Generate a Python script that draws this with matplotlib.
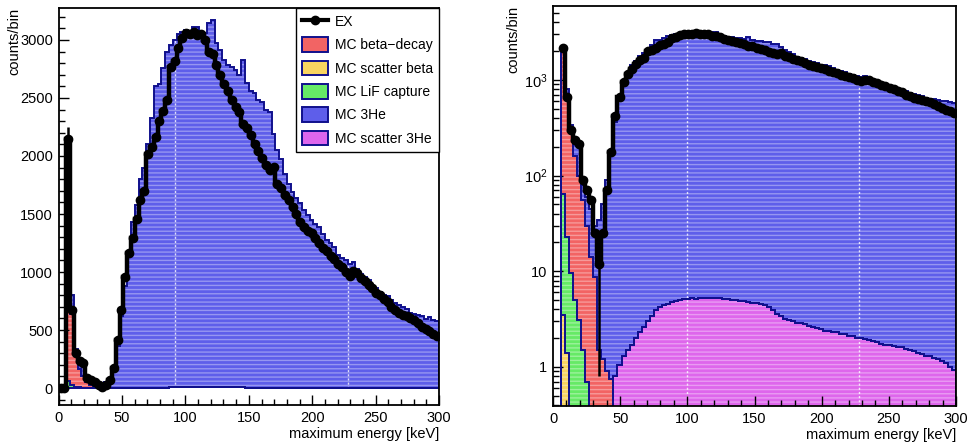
import numpy as np
import matplotlib
matplotlib.use("Agg")
import matplotlib.pyplot as plt
from matplotlib.lines import Line2D
from matplotlib.patches import Patch
from matplotlib.ticker import MultipleLocator, FixedLocator, FixedFormatter, LogLocator, NullFormatter

plt.rcParams['font.family'] = ['Liberation Sans', 'DejaVu Sans']
plt.rcParams['mathtext.fontset'] = 'custom'
plt.rcParams['mathtext.rm'] = 'Liberation Sans'
plt.rcParams['mathtext.it'] = 'Liberation Sans:italic'
plt.rcParams['hatch.linewidth'] = 1.0

# binning: 3 keV bins from 0 to 300 keV
e_min, e_max, bin_width = 0, 300, 3

# measured spectrum (counts per bin)
ex_counts = [
    0, 0, 2150, 670, 300, 235, 215, 90, 70, 55,
    25, 12, 25, 70, 175, 415, 670, 960, 1160, 1290,
    1460, 1620, 1700, 2020, 2080, 2160, 2300, 2390, 2480, 2770,
    2820, 2930, 3020, 3060, 3050, 3070, 3040, 3050, 3000, 2900,
    2880, 2780, 2700, 2620, 2560, 2480, 2420, 2380, 2280, 2240,
    2180, 2100, 2040, 1980, 1920, 1880, 1905, 1760, 1720, 1660,
    1620, 1560, 1500, 1430, 1390, 1350, 1335, 1290, 1250, 1210,
    1180, 1140, 1110, 1070, 1040, 1000, 970, 1010, 990, 950,
    920, 890, 860, 820, 800, 770, 740, 700, 675, 650,
    630, 620, 600, 590, 560, 530, 510, 490, 470, 450,
]
# error bars drawn on the measured spectrum: bin index -> (lower, upper)
ex_errors = {2: (100, 100), 11: (11.2, 11.0)}

# simulated components (counts per bin)
mc_3he = [
    0, 0, 30, 160, 30, 60, 100, 25, 30, 31,
    21, 33, 49, 89, 169, 359, 619, 879, 1178, 1428,
    1578, 1798, 1897, 2097, 2327, 2596, 2616, 2756, 2895, 2955,
    2995, 3045, 3065, 3080, 3075, 3105, 3110, 3065, 3055, 3140,
    3165, 2965, 2905, 2825, 2775, 2765, 2735, 2695, 2825, 2625,
    2555, 2535, 2475, 2465, 2395, 2375, 2185, 2045, 1975, 1845,
    1755, 1685, 1635, 1590, 1535, 1485, 1445, 1415, 1385, 1325,
    1275, 1245, 1213, 1148, 1118, 1098, 1068, 1088, 1028, 978,
    958, 928, 878, 858, 828, 798, 788, 758, 728, 718,
    698, 678, 648, 638, 628, 618, 598, 608, 589, 579,
]
mc_scatter_3he = [
    0, 0, 0, 0, 0, 0, 0, 0, 0, 0,
    0, 0, 0, 0, 0, 0.8, 1.05, 1.3, 1.5, 1.7,
    2.0, 2.3, 2.6, 3.0, 3.4, 3.9, 4.2, 4.4, 4.6, 4.8,
    4.9, 5.0, 5.1, 5.1, 5.2, 5.1, 5.2, 5.3, 5.2, 5.2,
    5.3, 5.2, 5.1, 5.1, 5.0, 5.0, 4.9, 4.9, 4.8, 4.7,
    4.7, 4.5, 4.4, 4.2, 3.9, 3.6, 3.4, 3.2, 3.1, 3.0,
    2.9, 2.85, 2.8, 2.7, 2.6, 2.55, 2.5, 2.4, 2.4, 2.3,
    2.3, 2.2, 2.2, 2.1, 2.1, 2.0, 2.0, 1.95, 1.9, 1.85,
    1.8, 1.75, 1.7, 1.7, 1.65, 1.6, 1.6, 1.55, 1.5, 1.45,
    1.4, 1.35, 1.3, 1.3, 1.25, 1.2, 1.15, 1.1, 1.0, 0.93,
]
# low-energy components: listed bins start at 0 keV, all later bins are empty
mc_beta_decay = [0, 0, 1985, 615, 300, 155, 97, 53.5, 29.3, 14, 8.7, 1.5, 1.2, 0.9, 0.75]
mc_scatter_beta = [0, 0, 3.5, 1.4]
mc_lif_capture = [0, 0, 61.5, 21.6, 9.5, 5.0, 3.1, 1.5, 0.7]

labels = ['EX', 'MC beta\u2212decay', 'MC scatter beta', 'MC LiF capture', 'MC 3He', 'MC scatter 3He']

col_red = '#f26464'
col_yel = '#f8d460'
col_grn = '#66ea66'
col_blu = '#5e5eea'
col_mag = '#de66ec'
navy = '#10108c'

edges = np.arange(e_min, e_max + bin_width, bin_width)
centers = 0.5 * (edges[:-1] + edges[1:])
nb = len(centers)


def full(v):
    a = np.zeros(nb)
    a[:len(v)] = v
    return a


ex = np.array(ex_counts, float)
layers = [  # stacked bottom -> top
    (full(mc_scatter_3he), col_mag),
    (full(mc_scatter_beta), col_yel),
    (full(mc_lif_capture), col_grn),
    (full(mc_beta_decay), col_red),
    (full(mc_3he), col_blu),
]

FS = 10.5


def draw_panel(ax, log):
    floor = 1e-3 if log else 0.0
    cum = np.zeros(nb)
    tops = []
    for vals, col in layers:
        lo = cum.copy()
        cum = cum + vals
        ax.stairs(np.maximum(cum, floor), edges, baseline=np.maximum(lo, floor),
                  fill=True, facecolor=col, edgecolor='none', lw=0, zorder=1)
        tops.append(cum.copy())
    # light horizontal texture across the filled stack
    ax.stairs(np.maximum(cum, floor), edges, baseline=floor, fill=True,
              facecolor='none', edgecolor=(1, 1, 1, 0.35), hatch='----', lw=0, zorder=1.2)
    for t in tops:
        ax.stairs(np.maximum(t, floor), edges, baseline=floor, fill=False,
                  color=navy, lw=1.4, zorder=2)

    y = ex.copy()
    if log:
        y[y <= 0] = np.nan
    ax.stairs(y, edges, baseline=None, color='k', lw=3.2, zorder=4)
    ax.plot(centers, y, 'o', ms=6, color='k', zorder=5)
    for i, (lo_e, hi_e) in ex_errors.items():
        ax.vlines(centers[i], max(ex[i] - lo_e, floor), ex[i] + hi_e, color='k', lw=1.8, zorder=4)

    ax.set_xlim(e_min, e_max)
    ax.xaxis.set_major_locator(MultipleLocator(50))
    ax.xaxis.set_minor_locator(MultipleLocator(10))
    ax.tick_params(which='both', direction='in', top=False, right=False,
                   labelsize=FS, width=1.0)
    ax.tick_params(axis='x', which='both', pad=4)
    ax.tick_params(axis='y', which='both', pad=4)
    ax.tick_params(which='major', length=7.5)
    ax.tick_params(which='minor', length=4)
    for s in ax.spines.values():
        s.set_linewidth(1.3)
    ax.set_xlabel('maximum energy [keV]', loc='right', fontsize=FS, labelpad=2)
    ax.set_ylabel('counts/bin', loc='top', fontsize=FS)


fig = plt.figure(figsize=(9.68, 4.43), dpi=100)
ax1 = fig.add_axes([0.0606, 0.0858, 0.3929, 0.8968])
ax2 = fig.add_axes([0.5713, 0.0835, 0.4163, 0.9029])

draw_panel(ax1, log=False)
ax1.set_ylim(-146, 3278)
ax1.yaxis.set_major_locator(MultipleLocator(500))
ax1.yaxis.set_minor_locator(MultipleLocator(100))
ax1.yaxis.set_label_coords(-0.097, 1.0)
for xv in (91.5, 228):
    ax1.axvline(xv, color='white', lw=1.0, ls=(0, (1.5, 1.5)), alpha=0.8, zorder=1.5)

draw_panel(ax2, log=True)
ax2.set_yscale('log')
ax2.set_ylim(0.39, 5930)
ax2.yaxis.set_major_locator(FixedLocator([1, 10, 100, 1000]))
ax2.yaxis.set_major_formatter(FixedFormatter(['1', '10', '$10^{2}$', '$10^{3}$']))
ax2.yaxis.set_minor_locator(LogLocator(base=10, subs=np.arange(2, 10)))
ax2.yaxis.set_minor_formatter(NullFormatter())
ax2.yaxis.set_label_coords(-0.082, 1.0)
for xv in (100, 228):
    ax2.axvline(xv, color='white', lw=1.0, ls=(0, (1.5, 1.5)), alpha=0.8, zorder=1.5)

handles = [Line2D([], [], color='k', lw=3, marker='o', ms=6)]
for col in (col_red, col_yel, col_grn, col_blu, col_mag):
    handles.append(Patch(facecolor=col, edgecolor=navy, lw=1.4))
leg = ax1.legend(handles, labels, loc='upper right', bbox_to_anchor=(1, 1),
                 borderaxespad=0, frameon=True, fancybox=False, edgecolor='k',
                 framealpha=1, fontsize=10, handlelength=1.9, handleheight=1.25,
                 labelspacing=0.6, borderpad=0.45, handletextpad=0.45)
leg.get_frame().set_linewidth(1.0)
leg.set_zorder(10)

fig.savefig('out.png', dpi=100)
